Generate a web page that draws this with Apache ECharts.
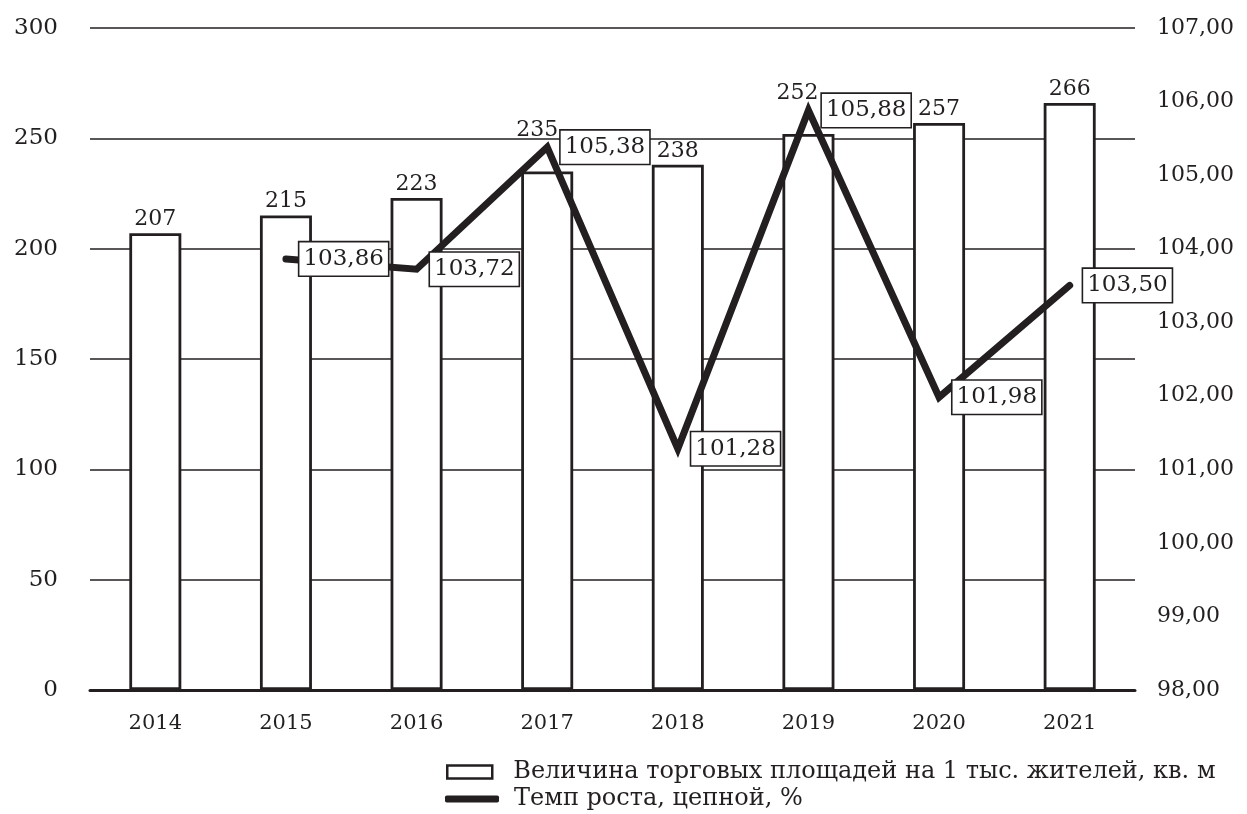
<!DOCTYPE html>
<html><head><meta charset="utf-8">
<script src="https://cdn.jsdelivr.net/npm/echarts@6/dist/echarts.min.js"></script>
<style>html,body{margin:0;padding:0;background:#fff}#c{width:1247px;height:814px}</style>
</head><body><div id="c"></div>
<script>
const years = ['2014','2015','2016','2017','2018','2019','2020','2021'];
const areaValues = [207, 215, 223, 235, 238, 252, 257, 266];
const growthValues = [null, 103.86, 103.72, 105.38, 101.28, 105.88, 101.98, 103.50];
const barName = 'Величина торговых площадей на 1 тыс. жителей, кв. м';
const lineName = 'Темп роста, цепной, %';

const FONT = 'DejaVu Serif';
const INK = '#231f20';
const fmt = v => v.toFixed(2).replace('.', ',');

// bar labels that sit where the line peaks are nudged up-left (as in the original)
const nudged = {3: [-10, -27], 5: [-11, -27]};
const barData = areaValues.map((v, i) => nudged[i]
  ? {value: v, label: {offset: nudged[i]}}
  : v);

const chart = echarts.init(document.getElementById('c'), null, {renderer:'canvas'});
chart.setOption({
  animation: false,
  backgroundColor: '#fff',
  textStyle: {fontFamily: FONT, color: INK},
  grid: {left: 90, right: 112, top: 28, bottom: 124},
  legend: [
    {data: [{name: barName, icon: 'rect'}], orient: 'vertical', left: 441, top: 755,
     itemWidth: 45, itemHeight: 13, itemGap: 10,
     textStyle: {fontFamily: FONT, fontSize: 24, color: INK, padding: [0,0,0,16]},
     itemStyle: {color: '#fff', borderColor: INK, borderWidth: 2.5}},
    {data: [{name: lineName, icon: 'roundRect'}], orient: 'vertical', left: 440, top: 782,
     itemWidth: 54, itemHeight: 7,
     textStyle: {fontFamily: FONT, fontSize: 24, color: INK, padding: [0,0,0,10]},
     itemStyle: {color: INK, borderWidth: 0}}
  ],
  xAxis: {
    type: 'category', data: years,
    axisLine: {lineStyle: {color: INK, width: 3}},
    axisTick: {show: false},
    axisLabel: {fontFamily: FONT, fontSize: 21, color: INK, margin: 23}
  },
  yAxis: [
    {type: 'value', min: 0, max: 300, interval: 50, position: 'left',
     axisLine: {show: false}, axisTick: {show: false},
     axisLabel: {fontFamily: FONT, fontSize: 23, color: INK, margin: 32},
     splitLine: {lineStyle: {color: INK, width: 1.6}}},
    {type: 'value', min: 98, max: 107, interval: 1, position: 'right',
     axisLine: {show: false}, axisTick: {show: false},
     axisLabel: {fontFamily: FONT, fontSize: 22, color: INK, margin: 22, formatter: fmt},
     splitLine: {show: false}}
  ],
  series: [
    {name: barName, type: 'bar', data: barData, barWidth: 52, yAxisIndex: 0, z: 2,
     itemStyle: {color: '#fff', borderColor: INK, borderWidth: 2.8},
     label: {show: true, position: 'top', distance: 3, fontFamily: FONT, fontSize: 22, color: INK}},
    {name: lineName, type: 'line', data: growthValues, yAxisIndex: 1, z: 5,
     symbol: 'circle', symbolSize: 1, connectNulls: false,
     lineStyle: {color: INK, width: 7, cap: 'round', join: 'miter'},
     itemStyle: {color: INK},
     label: {show: true, position: 'right', distance: 13, formatter: p => fmt(p.value),
       fontFamily: FONT, fontSize: 23, color: INK, backgroundColor: '#fff',
       borderColor: INK, borderWidth: 1.6, padding: [6, 4, 4, 4]}}
  ]
});
</script></body></html>
